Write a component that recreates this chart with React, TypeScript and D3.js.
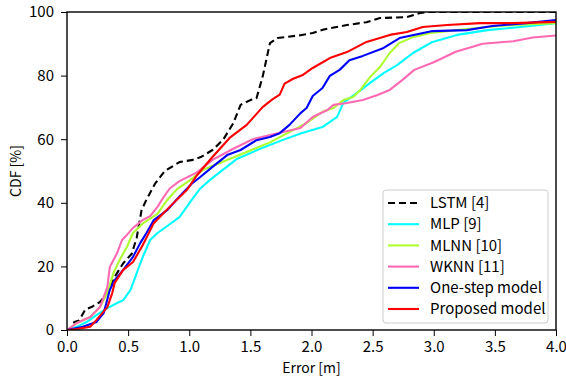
import React, { useEffect, useRef } from 'react';
import * as d3 from 'd3';

// CDF curves (x = error in m, y = CDF in %)
const lstmX = [0, 0.03, 0.06, 0.1, 0.15, 0.2, 0.27, 0.33, 0.39, 0.46, 0.53, 0.57, 0.61, 0.65, 0.72, 0.8, 0.92, 1.03, 1.1, 1.19, 1.28, 1.36, 1.42, 1.5, 1.55, 1.6, 1.66, 1.72, 1.91, 2.01, 2.1, 2.29, 2.45, 2.56, 2.78, 2.89, 2.95, 4.0];
const lstmY = [0, 0, 2.5, 3, 6.5, 7.2, 8.8, 11.6, 16.7, 21, 24, 29, 37.7, 41, 46, 50, 52.8, 53.5, 54.5, 56.6, 60, 65, 70.8, 72.3, 72.9, 79.6, 90.2, 91.8, 92.7, 93.4, 94.5, 95.9, 96.8, 98.1, 98.4, 99.7, 100, 100];

const mlpX = [0, 0.08, 0.16, 0.24, 0.33, 0.41, 0.46, 0.52, 0.57, 0.62, 0.68, 0.74, 0.82, 0.92, 1.01, 1.09, 1.17, 1.28, 1.39, 1.58, 1.74, 1.91, 2.09, 2.21, 2.26, 2.37, 2.48, 2.59, 2.7, 2.83, 2.99, 3.19, 3.44, 3.71, 4.0];
const mlpY = [0, 1, 2.5, 4.7, 6.9, 8.5, 9.4, 12.6, 17.9, 23, 28.3, 30.5, 32.7, 35.5, 40.4, 44.5, 47.2, 50.5, 53.8, 57, 59.4, 61.8, 63.8, 67, 71.4, 74.5, 77.7, 80.8, 83.3, 87.1, 90.6, 92.8, 94.3, 95.3, 96.5];

const mlnnX = [0, 0.08, 0.19, 0.27, 0.33, 0.38, 0.43, 0.49, 0.54, 0.62, 0.74, 0.82, 0.9, 1.01, 1.11, 1.25, 1.47, 1.66, 1.88, 1.96, 2.09, 2.18, 2.26, 2.34, 2.4, 2.48, 2.56, 2.64, 2.72, 2.83, 2.97, 3.19, 3.44, 3.65, 4.0];
const mlnnY = [0, 2.2, 4.1, 7.2, 11.6, 17.9, 22, 26.1, 30.5, 33.5, 36.5, 40.9, 44.3, 47.2, 50.3, 52.5, 56, 59, 63.5, 65.1, 68.6, 69.8, 72.3, 73.3, 75.5, 79.6, 82.7, 87.1, 90.3, 92.1, 93.4, 94.3, 95.3, 95.9, 96.5];

const wknnX = [0, 0.08, 0.19, 0.27, 0.33, 0.35, 0.41, 0.45, 0.49, 0.54, 0.62, 0.68, 0.74, 0.79, 0.84, 0.92, 1.06, 1.19, 1.36, 1.52, 1.74, 1.91, 2.01, 2.13, 2.18, 2.29, 2.42, 2.54, 2.64, 2.75, 2.84, 3.0, 3.18, 3.4, 3.65, 3.81, 4.0];
const wknnY = [0, 2.2, 4.1, 7.2, 13.5, 19.8, 24.2, 28.3, 29.9, 32.1, 34.6, 35.8, 38.7, 41.8, 44.5, 46.8, 49.5, 53.5, 57, 60, 62, 63.5, 67, 69.2, 70.8, 71.4, 72.3, 73.9, 75.5, 78.8, 81.8, 84.2, 87.5, 90, 90.8, 92, 92.6];

const oneX = [0, 0.13, 0.24, 0.3, 0.35, 0.39, 0.46, 0.54, 0.6, 0.65, 0.71, 0.82, 0.92, 1.02, 1.09, 1.19, 1.31, 1.42, 1.55, 1.66, 1.74, 1.82, 1.91, 1.96, 2.01, 2.09, 2.15, 2.23, 2.31, 2.42, 2.59, 2.72, 2.99, 3.27, 3.48, 3.76, 4.0];
const oneY = [0, 1, 2.5, 5.3, 12.6, 15.7, 18.9, 23, 27.4, 30.5, 34.6, 37.7, 42, 46, 48.1, 51.3, 55, 56.6, 59.7, 60.7, 61.9, 64.5, 68.2, 69.8, 73.6, 76.1, 79.9, 81.8, 84.8, 86.2, 88.7, 91.8, 94, 94.3, 95.6, 96.5, 97.5];

const propX = [0, 0.08, 0.19, 0.24, 0.33, 0.37, 0.39, 0.46, 0.54, 0.62, 0.71, 0.79, 0.87, 0.98, 1.06, 1.19, 1.33, 1.47, 1.6, 1.68, 1.74, 1.78, 1.85, 1.93, 2.01, 2.15, 2.29, 2.45, 2.64, 2.78, 2.91, 3.11, 3.38, 3.65, 4.0];
const propY = [0, 0.3, 1, 3.1, 7.2, 11.6, 14.8, 18.9, 21.4, 26.7, 33.6, 36.8, 39.9, 44, 48.5, 54.4, 60.4, 64.5, 70.1, 72.5, 74, 77.5, 79, 80.2, 82.4, 85.5, 87.4, 90.6, 92.8, 93.7, 95.3, 95.9, 96.5, 96.5, 96.9];

const seriesNames = ['LSTM [4]', 'MLP [9]', 'MLNN [10]', 'WKNN [11]', 'One-step model', 'Proposed model'];
const xTicks = [0, 0.5, 1, 1.5, 2, 2.5, 3, 3.5, 4];
const yTicks = [0, 20, 40, 60, 80, 100];

const FONT = '"Noto Sans CJK JP", "Noto Sans", sans-serif';

const App = () => {
  const ref = useRef<SVGSVGElement>(null);

  useEffect(() => {
    const W = 566, H = 376;
    const margin = { top: 12, right: 10, bottom: 46, left: 67 };
    const width = W - margin.left - margin.right;
    const height = H - margin.top - margin.bottom;

    const root = d3.select(ref.current);
    root.selectAll('*').remove();
    const svg = root.append('g').attr('transform', `translate(${margin.left},${margin.top})`);

    const x = d3.scaleLinear().domain([0, 4]).range([0, width]);
    const y = d3.scaleLinear().domain([0, 100]).range([height, 0]);

    const series = [
      { name: seriesNames[0], xs: lstmX, ys: lstmY, color: '#000000', dash: '7,4' },
      { name: seriesNames[1], xs: mlpX, ys: mlpY, color: '#00ffff', dash: null },
      { name: seriesNames[2], xs: mlnnX, ys: mlnnY, color: '#adff2f', dash: null },
      { name: seriesNames[3], xs: wknnX, ys: wknnY, color: '#ff69b4', dash: null },
      { name: seriesNames[4], xs: oneX, ys: oneY, color: '#0000ff', dash: null },
      { name: seriesNames[5], xs: propX, ys: propY, color: '#ff0000', dash: null },
    ];

    const line = d3.line<[number, number]>()
      .x(d => x(d[0]))
      .y(d => y(d[1]));

    svg.append('clipPath').attr('id', 'plotclip')
      .append('rect').attr('width', width).attr('height', height);

    const lines = svg.append('g').attr('clip-path', 'url(#plotclip)');
    series.forEach(s => {
      const pts = s.xs.map((v, i) => [v, s.ys[i]] as [number, number]);
      lines.append('path')
        .datum(pts)
        .attr('fill', 'none')
        .attr('stroke', s.color)
        .attr('stroke-width', 2.1)
        .attr('stroke-linejoin', 'round')
        .attr('stroke-dasharray', s.dash)
        .attr('d', line);
    });

    // axes
    const xAxis = svg.append('g')
      .attr('transform', `translate(0,${height})`)
      .call(d3.axisBottom(x).tickValues(xTicks).tickFormat(d3.format('.1f')).tickSize(6).tickPadding(5));
    const yAxis = svg.append('g')
      .call(d3.axisLeft(y).tickValues(yTicks).tickSize(6).tickPadding(7));
    [xAxis, yAxis].forEach(a => {
      a.select('.domain').remove();
      a.selectAll('line').attr('stroke', '#000').attr('stroke-width', 1);
      a.selectAll('text').attr('font-family', FONT).attr('font-size', 15).attr('fill', '#000');
    });

    // frame
    svg.append('rect')
      .attr('width', width).attr('height', height)
      .attr('fill', 'none').attr('stroke', '#000').attr('stroke-width', 1.4);

    svg.append('text')
      .attr('x', width / 2).attr('y', height + 43)
      .attr('text-anchor', 'middle')
      .attr('font-family', FONT).attr('font-size', 14)
      .text('Error [m]');
    svg.append('text')
      .attr('transform', `translate(${-46},${height / 2}) rotate(-90)`)
      .attr('text-anchor', 'middle')
      .attr('font-family', FONT).attr('font-size', 14)
      .text('CDF [%]');

    // legend
    const lg = svg.append('g').attr('transform', `translate(${316},${178})`);
    lg.append('rect')
      .attr('width', 165).attr('height', 133).attr('rx', 3)
      .attr('fill', '#fff').attr('fill-opacity', 0.85)
      .attr('stroke', '#cccccc').attr('stroke-width', 1);
    series.forEach((s, i) => {
      const cy = 13 + i * 21.2;
      lg.append('line')
        .attr('x1', 5).attr('x2', 36).attr('y1', cy).attr('y2', cy)
        .attr('stroke', s.color).attr('stroke-width', 2.1)
        .attr('stroke-dasharray', s.dash);
      lg.append('text')
        .attr('x', 47).attr('y', cy).attr('dy', '0.35em')
        .attr('font-family', FONT).attr('font-size', 15)
        .text(s.name);
    });
  }, []);

  return <svg ref={ref} width={566} height={376} style={{ position: 'absolute', left: 0, top: 0, background: '#fff' }} />;
};

export default App;
